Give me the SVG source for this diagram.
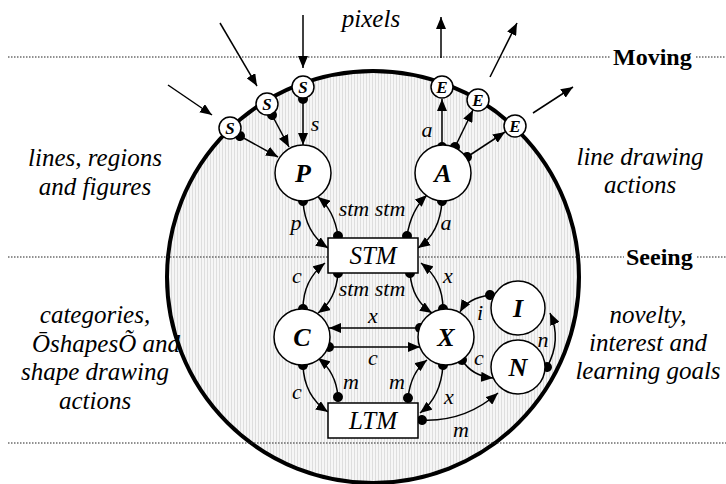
<svg xmlns="http://www.w3.org/2000/svg" width="726" height="484" viewBox="0 0 726 484">
<defs>
<pattern id="stripes" width="3" height="4" patternUnits="userSpaceOnUse">
<rect width="3" height="4" fill="#f6f6f6"/>
<rect x="0" width="1" height="4" fill="#dedede"/>
</pattern>
<marker id="arr" markerUnits="userSpaceOnUse" markerWidth="13" markerHeight="10" refX="12" refY="5" orient="auto">
<path d="M0,0 L12,5 L0,10 z" fill="#000"/>
</marker>
<marker id="dot" markerUnits="userSpaceOnUse" markerWidth="12" markerHeight="12" refX="6" refY="6" orient="auto">
<circle cx="6" cy="6" r="5" fill="#000"/>
</marker>
</defs>
<style>
text{font-family:"Liberation Serif","Times New Roman",serif}
.dl{stroke:#222;stroke-width:1;stroke-dasharray:1.5 1.5;fill:none}
.node{fill:#fff;stroke:#000;stroke-width:1.5}
.box{fill:#fff;stroke:#000;stroke-width:1.5}
.c{fill:none;stroke:#000;stroke-width:1.5;marker-start:url(#dot);marker-end:url(#arr)}
.o{fill:none;stroke:#000;stroke-width:1.5;marker-end:url(#arr)}
.nl{font-weight:bold;font-style:italic;font-size:26px;text-anchor:middle}
.sl{font-weight:bold;font-style:italic;font-size:17px;text-anchor:middle}
.bl{font-style:italic;font-size:25px;text-anchor:middle}
.el{font-style:italic;font-size:22px;text-anchor:middle}
.side{font-style:italic;font-size:25px;text-anchor:middle}
.hd{font-weight:bold;font-size:24px}
</style>

<g id="agent">
<circle cx="373" cy="277" r="206" fill="url(#stripes)" stroke="#000" stroke-width="4"/>
</g>

<g id="bands">
<line class="dl" x1="8" y1="57" x2="611" y2="57"/>
<line class="dl" x1="696" y1="57" x2="726" y2="57"/>
<line class="dl" x1="8" y1="257" x2="624" y2="257"/>
<line class="dl" x1="697" y1="257" x2="726" y2="257"/>
<line class="dl" x1="8" y1="443" x2="726" y2="443"/>
<text class="hd" x="613" y="65">Moving</text>
<text class="hd" x="626" y="265">Seeing</text>
</g>

<g id="labels">
<text class="side" x="371" y="27">pixels</text>
<text class="side" x="95" y="166">lines, regions</text>
<text class="side" x="95" y="195">and figures</text>
<text class="side" x="95" y="323">categories,</text>
<text class="side" x="106" y="352">ŌshapesÕ and</text>
<text class="side" x="95" y="380">shape drawing</text>
<text class="side" x="95" y="409">actions</text>
<text class="side" x="640" y="165">line drawing</text>
<text class="side" x="640" y="193">actions</text>
<text class="side" x="648" y="323">novelty,</text>
<text class="side" x="648" y="351">interest and</text>
<text class="side" x="648" y="379">learning goals</text>
</g>

<g id="connectors">
<path class="o" d="M168,85 L212,115"/>
<path class="o" d="M220,23 L257,86"/>
<path class="o" d="M303,15 L303,68"/>
<path class="o" d="M441,58 L441,17"/>
<path class="o" d="M490,77 L517,23"/>
<path class="o" d="M533,113 L573,87"/>
<path class="c" d="M240,136 L278,157"/>
<path class="c" d="M272,115 L289,147"/>
<path class="c" d="M303,99 L303,145"/>
<path class="c" d="M442,147 L442,99"/>
<path class="c" d="M455,147 L473,110"/>
<path class="c" d="M467,157 L505,132"/>
<path class="c" d="M303,201 Q305,233 328,248"/>
<path class="c" d="M338,236 Q334,210 318,197"/>
<path class="c" d="M407,236 Q411,210 427,195"/>
<path class="c" d="M442,201 Q440,233 418,248"/>
<path class="c" d="M303,309 Q303,280 325,263"/>
<path class="c" d="M338,273 Q336,300 318,313"/>
<path class="c" d="M410,273 Q412,300 432,313"/>
<path class="c" d="M443,309 Q443,280 421,263"/>
<path class="c" d="M420,328 L329,328"/>
<path class="c" d="M329,347 L420,347"/>
<path class="c" d="M303,365 Q304,396 328,412"/>
<path class="c" d="M338,397 Q336,372 318,358"/>
<path class="c" d="M408,398 Q411,372 427,360"/>
<path class="c" d="M443,365 Q441,397 420,413"/>
<path class="c" d="M462,360 Q472,376 493,378"/>
<path class="c" d="M490,295 Q468,298 460,312"/>
<path class="c" d="M547,367 Q562,340 550,313"/>
<path class="c" d="M422,420 Q465,422 498,393"/>
<text class="el" x="315" y="131">s</text>
<text class="el" x="427" y="137">a</text>
<text class="el" x="296" y="230">p</text>
<text class="el" x="446" y="230">a</text>
<text class="el" x="372" y="216">stm stm</text>
<text class="el" x="297" y="283">c</text>
<text class="el" x="448" y="283">x</text>
<text class="el" x="372" y="296">stm stm</text>
<text class="el" x="373" y="323">x</text>
<text class="el" x="373" y="365">c</text>
<text class="el" x="297" y="399">c</text>
<text class="el" x="351" y="389">m</text>
<text class="el" x="397" y="389">m</text>
<text class="el" x="449" y="404">x</text>
<text class="el" x="480" y="320">i</text>
<text class="el" x="479" y="365">c</text>
<text class="el" x="543" y="347">n</text>
<text class="el" x="461" y="437">m</text>
</g>

<g id="S1"><circle class="node" cx="230" cy="128" r="11"/><text class="sl" x="230" y="134">S</text></g>
<g id="S2"><circle class="node" cx="267" cy="104" r="11"/><text class="sl" x="267" y="110">S</text></g>
<g id="S3"><circle class="node" cx="303" cy="87" r="11"/><text class="sl" x="303" y="93">S</text></g>
<g id="E1"><circle class="node" cx="442" cy="87" r="11"/><text class="sl" x="442" y="93">E</text></g>
<g id="E2"><circle class="node" cx="478" cy="100" r="11"/><text class="sl" x="478" y="106">E</text></g>
<g id="E3"><circle class="node" cx="515" cy="126" r="11"/><text class="sl" x="515" y="132">E</text></g>

<g id="P"><circle class="node" cx="303" cy="173" r="28"/><text class="nl" x="303" y="182">P</text></g>
<g id="A"><circle class="node" cx="443" cy="173" r="28"/><text class="nl" x="443" y="182">A</text></g>
<g id="C"><circle class="node" cx="302" cy="337" r="28"/><text class="nl" x="302" y="346">C</text></g>
<g id="X"><circle class="node" cx="446" cy="337" r="28"/><text class="nl" x="446" y="346">X</text></g>
<g id="I"><circle class="node" cx="518" cy="308" r="27"/><text class="nl" x="518" y="317">I</text></g>
<g id="N"><circle class="node" cx="518" cy="367" r="27"/><text class="nl" x="518" y="376">N</text></g>
<g id="STM"><rect class="box" x="328" y="238" width="90" height="35"/><text class="bl" x="373" y="264">STM</text></g>
<g id="LTM"><rect class="box" x="328" y="403" width="90" height="35"/><text class="bl" x="373" y="429">LTM</text></g>
</svg>
